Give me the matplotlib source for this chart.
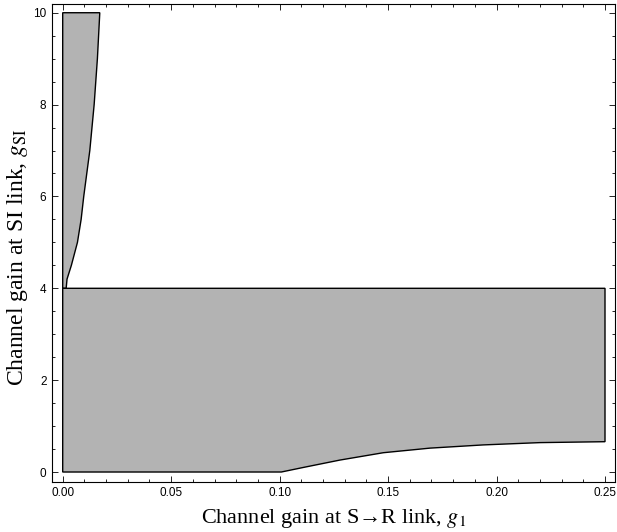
import numpy as np
import matplotlib.pyplot as plt
from matplotlib.ticker import MultipleLocator

plt.rcParams['mathtext.fontset'] = 'stix'

# Upper-left region: right boundary x(y) for y in [4, 10]
upper_y = [4.0, 4.2, 4.5, 5.0, 5.5, 6.0, 7.0, 8.0, 9.0, 10.0]
upper_x = [0.0016, 0.0020, 0.0040, 0.0068, 0.0085, 0.0097, 0.0125, 0.0145, 0.0160, 0.0171]

# Lower region: lower boundary y(x), upper edge at y = 4
lower_x = [0.0, 0.1008, 0.111, 0.1278, 0.1478, 0.1693, 0.1939, 0.22, 0.25]
lower_y = [0.0, 0.0, 0.10, 0.26, 0.42, 0.52, 0.59, 0.64, 0.66]
lower_top = 4.0

gray = '#b3b3b3'

fig = plt.figure(figsize=(6.17, 5.32), dpi=100)
ax = fig.add_axes([52 / 617, 1 - 481.7 / 532, (615 - 52) / 617, (481.7 - 4) / 532])

# upper-left polygon
ux = [0.0] + upper_x + [0.0]
uy = [upper_y[0]] + upper_y + [upper_y[-1]]
ax.fill(ux, uy, facecolor=gray, edgecolor='black', linewidth=1.0)

# lower polygon
lx = list(lower_x) + [lower_x[-1], lower_x[0]]
ly = list(lower_y) + [lower_top, lower_top]
ax.fill(lx, ly, facecolor=gray, edgecolor='black', linewidth=1.0)

ax.set_xlim(-0.00493, 0.25461)
ax.set_ylim(-0.211, 10.19)

ax.xaxis.set_major_locator(MultipleLocator(0.05))
ax.xaxis.set_minor_locator(MultipleLocator(0.01))
ax.yaxis.set_major_locator(MultipleLocator(2))
ax.yaxis.set_minor_locator(MultipleLocator(0.5))
ax.xaxis.set_major_formatter(plt.FormatStrFormatter('%.2f'))

ax.tick_params(which='both', direction='in', top=True, right=True,
               labelsize=8.5, width=0.6, pad=4)
ax.tick_params(which='major', length=4)
ax.tick_params(which='minor', length=2)
for lab in ax.get_xticklabels() + ax.get_yticklabels():
    lab.set_family('Liberation Sans')
for sp in ax.spines.values():
    sp.set_linewidth(0.8)

ax.set_xlabel('Channel gain at S\u2192R link, $g_1$',
              family='Liberation Serif', fontsize=16)
ax.set_ylabel(r'Channel gain at SI link, $g_{\mathrm{SI}}$',
              family='Liberation Serif', fontsize=17)
ax.xaxis.set_label_coords(0.5, -0.052)
ax.yaxis.set_label_coords(-0.039, 0.47)

fig.savefig('out.png', dpi=100)
